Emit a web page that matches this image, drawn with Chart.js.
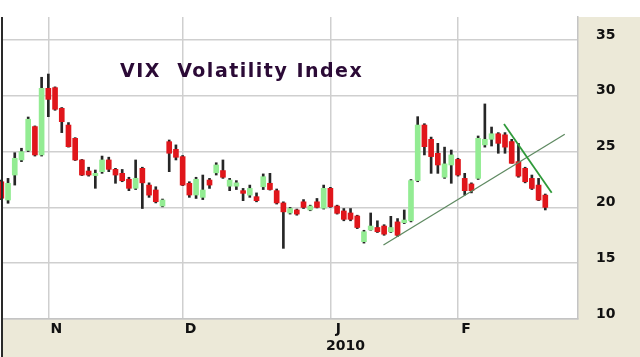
<!DOCTYPE html>
<html>
<head>
<meta charset="utf-8">
<script src="https://cdn.jsdelivr.net/npm/chart.js@4/dist/chart.umd.min.js"></script>
<style>
  html, body { margin: 0; padding: 0; background: #fff; }
  #wrap { width: 640px; height: 357px; }
</style>
</head>
<body>
<div id="wrap"><canvas id="vix" width="640" height="357"></canvas></div>
<script>
// daily VIX candles, Oct 22 2009 .. Feb 19 2010 (index = trading day)
const OPEN = [
  22.30, 20.66, 22.90, 24.25, 25.10, 27.24, 24.70, 30.67, 30.73, 28.88,
  27.38, 26.19, 24.25, 23.26, 22.85, 23.20, 24.25, 23.41, 23.05, 22.52,
  21.71, 23.50, 22.00, 21.56, 20.12, 25.89, 25.20, 24.55, 22.16, 21.11,
  20.90, 22.45, 23.10, 23.30, 21.90, 21.90, 21.50, 21.10, 20.96, 21.85,
  22.16, 21.50, 20.40, 19.50, 19.77, 20.50, 19.77, 20.50, 19.92, 21.71,
  20.12, 19.68, 19.50, 19.23, 16.93, 17.98, 18.20, 18.33, 17.82, 18.70,
  18.63, 18.80, 22.40, 27.38, 26.10, 24.85, 22.70, 23.80, 24.30, 22.60,
  22.10, 22.60, 25.60, 26.10, 26.60, 26.50, 25.90, 24.10, 23.50, 22.60,
  22.00, 21.10
];
const HIGH = [
  22.45, 22.60, 24.90, 25.30, 28.10, 27.30, 31.66, 31.95, 30.80, 28.95,
  27.60, 26.25, 24.30, 23.60, 23.35, 24.60, 24.50, 23.50, 23.40, 22.70,
  24.25, 23.60, 22.20, 21.85, 20.75, 26.04, 25.60, 24.65, 22.30, 22.70,
  22.90, 22.60, 24.00, 24.25, 22.60, 22.40, 21.70, 22.00, 21.30, 23.00,
  23.05, 21.65, 20.50, 20.00, 19.85, 20.70, 20.20, 20.80, 22.00, 21.80,
  20.20, 19.90, 19.90, 19.30, 17.95, 19.50, 18.80, 18.45, 19.20, 19.00,
  19.77, 22.50, 28.13, 27.50, 26.30, 25.74, 25.40, 25.14, 24.40, 23.05,
  22.20, 26.40, 29.27, 27.20, 26.70, 26.70, 26.10, 25.74, 23.60, 22.90,
  22.60, 21.20
];
const LOW = [
  20.70, 20.37, 22.00, 24.10, 25.00, 24.60, 24.60, 28.13, 28.70, 26.70,
  25.40, 24.20, 22.85, 22.80, 21.71, 23.05, 23.20, 22.16, 22.30, 21.50,
  21.60, 19.90, 20.90, 20.40, 20.05, 23.20, 24.25, 21.95, 20.90, 20.80,
  20.70, 21.70, 22.90, 22.60, 21.50, 21.60, 20.60, 20.90, 20.50, 21.60,
  21.55, 20.30, 16.33, 19.40, 19.30, 19.90, 19.70, 19.95, 19.85, 20.00,
  19.40, 18.80, 18.80, 18.10, 16.80, 17.95, 17.75, 17.50, 17.75, 17.40,
  18.55, 18.70, 22.30, 24.70, 23.05, 23.05, 22.60, 22.16, 22.80, 21.10,
  21.30, 22.50, 25.40, 25.50, 24.85, 24.85, 23.95, 22.70, 22.20, 21.60,
  20.60, 19.77
];
const CLOSE = [
  20.82, 22.16, 24.40, 25.00, 27.90, 24.70, 30.67, 29.68, 28.79, 27.68,
  25.44, 24.25, 22.90, 22.90, 23.05, 24.25, 23.41, 22.90, 22.39, 21.71,
  22.61, 22.20, 21.10, 20.51, 20.66, 24.85, 24.49, 22.00, 21.11, 22.52,
  21.56, 22.00, 23.80, 22.70, 22.45, 22.20, 21.26, 21.70, 20.60, 22.75,
  21.60, 20.40, 19.60, 19.90, 19.40, 20.00, 20.12, 20.00, 21.71, 20.06,
  19.47, 18.93, 18.93, 18.20, 17.82, 18.33, 17.82, 17.60, 18.20, 17.50,
  18.87, 22.40, 27.38, 25.44, 24.55, 23.80, 23.90, 24.70, 22.90, 21.50,
  21.50, 26.19, 26.10, 26.60, 25.74, 25.40, 23.95, 22.80, 22.30, 21.70,
  20.66, 20.00
];

// first trading day of each month shown
const MONTH_START = [7, 27, 49, 68];
const MONTH_LABELS = ["N", "D", "J", "F"];
const YEAR_AT = 49;
const YEAR_LABEL = "2010";

const Y_TICKS = [10, 15, 20, 25, 30, 35];

// hand-drawn trendlines, [day index, value]
const SUPPORT_LINE = [[56.9, 16.63], [83.9, 26.55]];
const RESIST_LINE = [[74.85, 27.47], [81.95, 21.32]];

const TITLE = "VIX  Volatility Index";

const GREEN = "#93ec93";
const RED = "#e0161b";
const WICK = "#262626";
const PANEL = "#ECE9D8";
const GRID = "#cfcfcf";


const wicks = HIGH.map((h, i) => ({ x: i, y: [LOW[i], h] }));
const bodies = OPEN.map((o, i) => ({ x: i, y: [o, CLOSE[i]] }));
const bodyColors = OPEN.map((o, i) => CLOSE[i] >= o ? GREEN : RED);


const frame = {
  id: "frame",
  beforeDraw(chart) {
    const { ctx, chartArea: a } = chart;
    ctx.save();
    ctx.fillStyle = "#fff";
    ctx.fillRect(0, 0, chart.width, chart.height);
    ctx.fillStyle = PANEL;
    ctx.fillRect(2, a.top, chart.width - 2, chart.height - a.top);
    ctx.fillStyle = "#fff";
    ctx.fillRect(a.left, a.top, a.right - a.left, a.bottom - a.top);
    ctx.restore();
  },
  afterDraw(chart) {
    const { ctx, chartArea: a, scales } = chart;
    ctx.save();

    // dark left edge
    ctx.fillStyle = "#2a2a2a";
    ctx.fillRect(1, a.top, 2, chart.height - a.top);

    // title inside plot
    ctx.fillStyle = "#2b0a36";
    ctx.font = "bold 19px 'DejaVu Sans'";
    ctx.letterSpacing = "1.5px";
    ctx.textBaseline = "alphabetic";
    ctx.fillText(TITLE, 120, 77);

    // year under January
    ctx.letterSpacing = "0px";
    ctx.fillStyle = "#111";
    ctx.font = "bold 14px 'DejaVu Sans'";
    ctx.textAlign = "center";
    ctx.fillText(YEAR_LABEL, scales.x.getPixelForValue(YEAR_AT) + 15, 350);
    ctx.restore();
  }
};


new Chart(document.getElementById("vix"), {
  type: "bar",
  data: {
    datasets: [
      {
        label: "wick",
        data: wicks,
        backgroundColor: WICK,
        barThickness: 2,
        grouped: false,
        clip: false,
        order: 3
      },
      {
        label: "body",
        data: bodies,
        backgroundColor: bodyColors,
        barThickness: 5,
        grouped: false,
        clip: false,
        order: 2
      },
      {
        type: "line",
        label: "support",
        data: SUPPORT_LINE.map(p => ({ x: p[0], y: p[1] })),
        borderColor: "#5f8a62",
        borderWidth: 1.3,
        pointRadius: 0,
        order: 1
      },
      {
        type: "line",
        label: "resistance",
        data: RESIST_LINE.map(p => ({ x: p[0], y: p[1] })),
        borderColor: "#2f9a3a",
        borderWidth: 1.8,
        pointRadius: 0,
        order: 0
      }
    ]
  },
  options: {
    responsive: false,
    animation: false,
    devicePixelRatio: 1,
    layout: { padding: { top: 17, left: 3, right: 0, bottom: 0 } },
    plugins: {
      legend: { display: false },
      tooltip: { enabled: false },
      title: { display: false }
    },
    scales: {
      x: {
        type: "linear",
        offset: false,
        min: 0.25,
        max: 85.87,
        afterBuildTicks: (s) => { s.ticks = MONTH_START.map(v => ({ value: v })); },
        afterFit: (s) => { s.height = 38; s.paddingLeft = 0; s.paddingRight = 0; },
        grid: { color: GRID, lineWidth: 1.5, drawTicks: false, offset: false },
        border: { color: "#c4c4c4", width: 1.5 },
        ticks: {
          callback: (v, i) => MONTH_LABELS[i],
          font: { family: "DejaVu Sans", weight: "bold", size: 14 },
          color: "#111",
          padding: 2,
          labelOffset: 8,
          maxRotation: 0,
          autoSkip: false
        }
      },
      y: {
        position: "right",
        min: 10,
        max: 37.06,
        afterBuildTicks: (s) => { s.ticks = Y_TICKS.map(v => ({ value: v })); },
        afterFit: (s) => { s.width = 62; s.paddingTop = 0; s.paddingBottom = 0; },
        grid: { color: GRID, lineWidth: 1.5, drawTicks: false },
        border: { color: "#c4c4c4", width: 1.5 },
        ticks: {
          font: { family: "DejaVu Sans", weight: "bold", size: 14 },
          color: "#111",
          crossAlign: "near",
          padding: 18,
          labelOffset: -5
        }
      }
    }
  },
  plugins: [frame]
});
</script>
</body>
</html>
